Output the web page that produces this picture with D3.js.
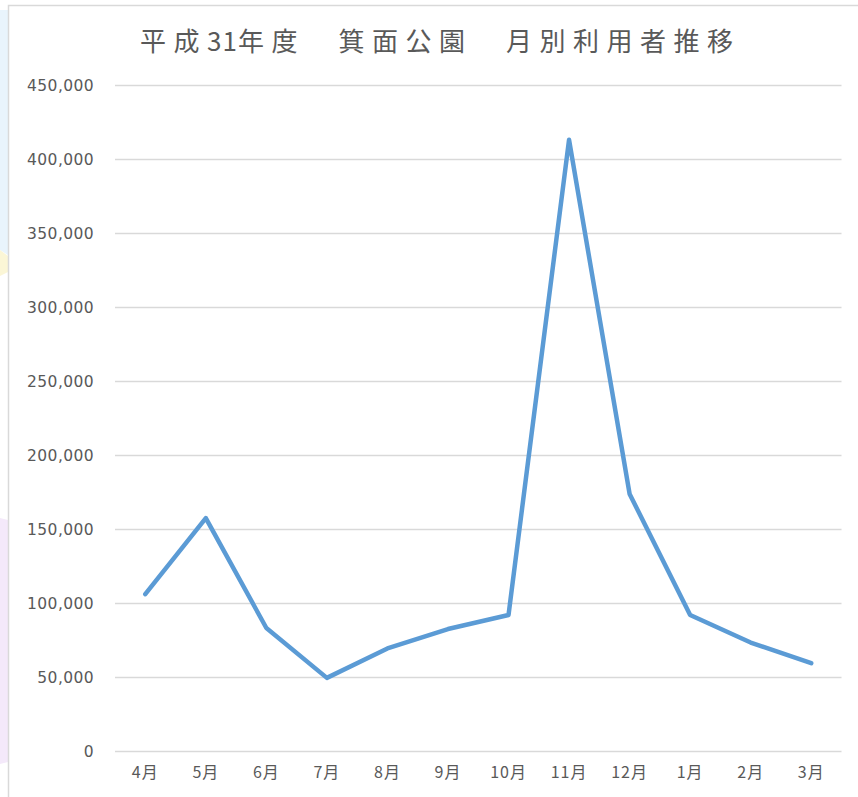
<!DOCTYPE html>
<html>
<head>
<meta charset="utf-8">
<script src="https://cdn.jsdelivr.net/npm/d3@7"></script>
<style>
  html, body { margin: 0; padding: 0; background: #ffffff; }
  svg { display: block; }
</style>
</head>
<body>
<svg id="chart" width="858" height="797"></svg>
<script>
// Monthly visitors, Minoo Park, fiscal year Heisei 31
const titleParts = ["平成", "31", "年度　箕面公園　月別利用者推移"];
const months = ["4月", "5月", "6月", "7月", "8月", "9月", "10月", "11月", "12月", "1月", "2月", "3月"];
const visitors = [106000, 157400, 83100, 49400, 69300, 82400, 91900, 413000, 173700, 91900, 73300, 59300];
const yTicks = [0, 50000, 100000, 150000, 200000, 250000, 300000, 350000, 400000, 450000];

const W = 858, H = 797;
const margin = { left: 115, right: 17, top: 85, bottom: 46 };
const svg = d3.select("#chart");

// faint page decoration peeking out behind the chart frame on the left
const deco = svg.append("g");
deco.append("path")
  .attr("d", "M0,10 L8,10 L8,255 L0,250 Z")
  .attr("fill", "#e9f4fc");
deco.append("path")
  .attr("d", "M0,250 L8,256 L8,272 L0,276 Z")
  .attr("fill", "#fbf6d6");
deco.append("path")
  .attr("d", "M0,518 L8,520 L8,762 L0,764 Z")
  .attr("fill", "#f4e9fa");

// chart frame
svg.append("rect")
  .attr("x", 8.5).attr("y", 5.5)
  .attr("width", W).attr("height", H)
  .attr("fill", "#ffffff")
  .attr("stroke", "#d9d9d9")
  .attr("stroke-width", 1.5);

const x = d3.scaleBand()
  .domain(months)
  .range([margin.left, W - margin.right + 0.5])
  .paddingInner(0).paddingOuter(0);

const y = d3.scaleLinear()
  .domain([0, 450000])
  .range([H - margin.bottom, margin.top]);

const fmt = d3.format(",");

// y axis with gridlines
const yAxis = svg.append("g")
  .attr("transform", `translate(${margin.left},0)`)
  .call(d3.axisLeft(y)
    .tickValues(yTicks)
    .tickFormat(fmt)
    .tickSize(-(x.range()[1] - margin.left))
    .tickPadding(21));
yAxis.select(".domain").remove();
yAxis.selectAll(".tick line")
  .attr("stroke", "#d9d9d9")
  .attr("stroke-width", 1.5);
yAxis.selectAll(".tick text")
  .attr("fill", "#595959")
  .attr("font-family", "'DejaVu Sans', Verdana, sans-serif")
  .attr("font-size", 15.5)
  .attr("letter-spacing", 0.4)
  .attr("dy", "0.36em");

// x axis labels
const xAxis = svg.append("g")
  .attr("transform", `translate(0,${H - margin.bottom})`)
  .call(d3.axisBottom(x).tickSize(0).tickPadding(16));
xAxis.select(".domain").remove();
xAxis.selectAll(".tick text")
  .attr("fill", "#595959")
  .attr("font-family", "'Noto Sans CJK JP', sans-serif")
  .attr("font-size", 16)
  .attr("letter-spacing", 1);

// visitor line
const line = d3.line()
  .x((d, i) => x(months[i]) + x.bandwidth() / 2)
  .y(d => y(d));

svg.append("path")
  .datum(visitors)
  .attr("d", line)
  .attr("fill", "none")
  .attr("stroke", "#5b9bd5")
  .attr("stroke-width", 4.5)
  .attr("stroke-linejoin", "round")
  .attr("stroke-linecap", "round");

// title: ideographs spaced out, digits kept tight
const title = svg.append("text")
  .attr("x", 140)
  .attr("y", 51)
  .attr("fill", "#595959")
  .attr("font-family", "'Noto Sans CJK JP', sans-serif")
  .attr("font-size", 26);
titleParts.forEach((t, i) => {
  title.append("tspan")
    .attr("letter-spacing", i === 1 ? 1 : 7.5)
    .text(t);
});
</script>
</body>
</html>
